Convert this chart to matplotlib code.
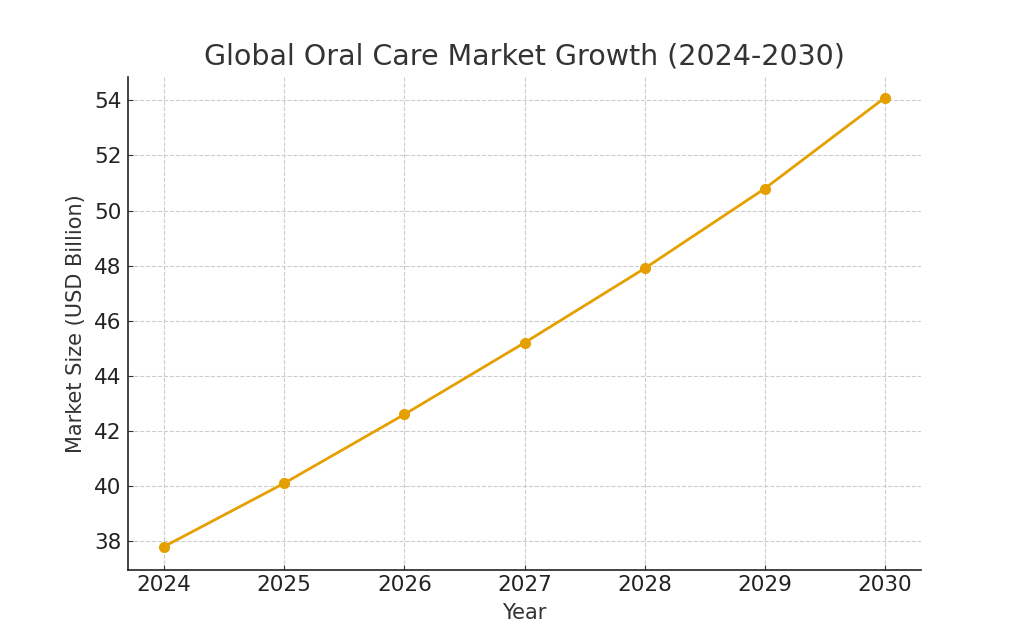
import matplotlib
matplotlib.use("Agg")
import matplotlib.pyplot as plt

# 数据
years = [2024, 2025, 2026, 2027, 2028, 2029, 2030]
market_size = [37.8, 40.1, 42.6, 45.2, 47.9, 50.8, 54.1]

text_color = "#333333"
line_color = "#E69F00"

plt.rcParams['font.family'] = ['DejaVu Sans']
plt.rcParams['text.color'] = text_color
plt.rcParams['axes.labelcolor'] = text_color
plt.rcParams['xtick.color'] = text_color
plt.rcParams['ytick.color'] = text_color

fig = plt.figure(figsize=(10.24, 6.4), dpi=100)
ax = fig.add_axes([128 / 1024, 1 - 570 / 640, (921 - 128) / 1024, (570 - 77) / 640])

ax.plot(years, market_size, marker='o', color=line_color, linewidth=2, markersize=7)

ax.set_title("Global Oral Care Market Growth (2024-2030)", fontsize=20.5, pad=9)
ax.set_xlabel("Year", fontsize=15, labelpad=6)
ax.set_ylabel("Market Size (USD Billion)", fontsize=15, labelpad=6)
ax.set_xticks(years)
ax.set_yticks([38, 40, 42, 44, 46, 48, 50, 52, 54])
ax.tick_params(labelsize=15.5, labelcolor='#222222', direction='in')
ax.tick_params(axis='x', pad=3.5)
ax.tick_params(axis='y', pad=4.5)
ax.set_ylim(36.95, 54.85)
ax.set_xlim(2023.7, 2030.3)
ax.grid(True, linestyle='--', color='#cccccc', linewidth=0.8)
ax.spines['top'].set_visible(False)
ax.spines['right'].set_visible(False)
for s in ['left', 'bottom']:
    ax.spines[s].set_color('#222222')
    ax.spines[s].set_linewidth(1.2)

fig.savefig("out.png", dpi=100)
